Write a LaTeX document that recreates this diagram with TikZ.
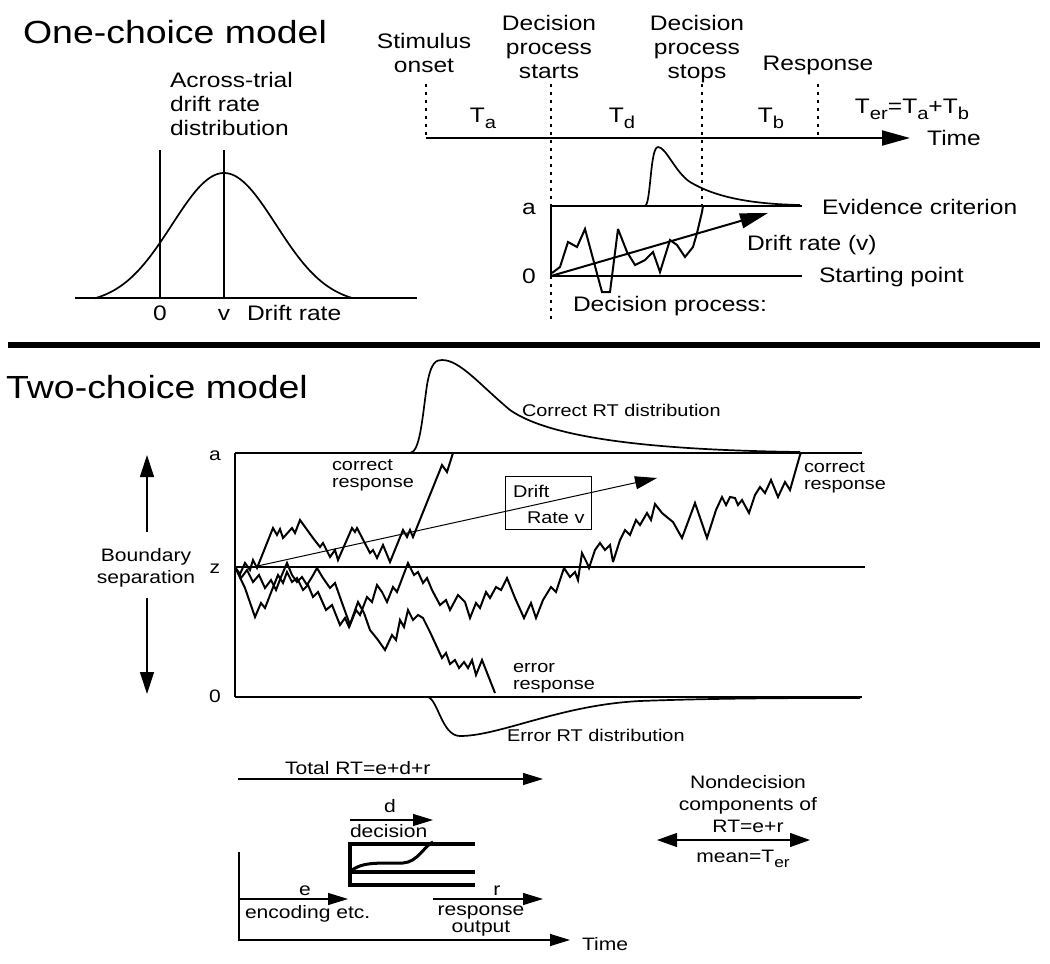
\documentclass[tikz,border=0pt]{standalone}
\usepackage{fontspec}
\setmainfont{Liberation Sans}[FakeStretch=1.17]
\usepackage{graphicx}
\usetikzlibrary{arrows.meta}
\newcommand\lsub[1]{\raisebox{-0.32em}{\scalebox{0.82}{#1}}}
\begin{document}
\begin{tikzpicture}[x=1pt,y=-1pt,
  every node/.style={inner sep=0pt, outer sep=0pt},
  ttl/.style={font=\fontsize{32}{36}\selectfont},
  big/.style={font=\fontsize{21}{24}\selectfont, align=center},
  bigl/.style={font=\fontsize{21}{24}\selectfont, align=left},
  mid/.style={font=\fontsize{18}{22}\selectfont, align=center},
  sml/.style={font=\fontsize{17}{17}\selectfont, align=left},
  bd/.style={line width=2pt},
  walk/.style={line width=2pt, line join=miter, miter limit=4},
  dots/.style={line width=1.8pt, dash pattern=on 3pt off 5pt},
  thinl/.style={line width=1.2pt},
  curve/.style={line width=1.7pt},
  bighead/.style={-{Triangle[length=28pt,width=15pt]}},
  smlhead/.style={-{Triangle[length=20pt,width=12pt]}},
]
\useasboundingbox (0,0) rectangle (1050,964);

%% ================= One-choice model =================
\node[ttl, anchor=base] (t1) at (175,43) {One-choice model};

% drift rate distribution
\node[bigl, anchor=base west] (across) at (170,135) {Across-trial\\drift rate\\distribution};
\coordinate (gx0) at (75,298);
\coordinate (gx1) at (417,298);
\draw[bd] (gx0) -- (gx1);
\coordinate (z0t) at (160,150);
\coordinate (z0b) at (160,298);
\coordinate (vt) at (224,150);
\coordinate (vb) at (224,298);
\draw[bd] (z0t) -- (z0b);
\draw[bd] (vt) -- (vb);
\draw[curve] plot[domain=95:352,samples=100,smooth] (\x,{298-131.3*(exp(-0.5*((\x-224)/52)^2)-0.048)});
\node[big, anchor=base] (zlab) at (160,320) {0};
\node[big, anchor=base] (vlab) at (224,320) {v};
\node[big, anchor=base west] (drlab) at (247,320) {Drift rate};

% time line
\coordinate (tl0) at (426,138);
\coordinate (tl1) at (910,138);
\draw[bd, bighead] (tl0) -- (tl1);
\node[big, anchor=base] (stim) at (424,72) {Stimulus\\onset};
\node[big, anchor=base] (dstart) at (549,78) {Decision\\process\\starts};
\node[big, anchor=base] (dstop) at (697,78) {Decision\\process\\stops};
\node[big, anchor=base] (resp) at (818,70) {Response};
\coordinate (so0) at (426,84);
\draw[dots] (so0) -- (tl0);
\coordinate (ds0) at (551,84);
\coordinate (ds1) at (551,322);
\draw[dots] (ds0) -- (ds1);
\coordinate (dp0) at (702,84);
\coordinate (dp1) at (702,206);
\draw[dots] (dp0) -- (dp1);
\coordinate (rs0) at (818,84);
\coordinate (rs1) at (818,138);
\draw[dots] (rs0) -- (rs1);
\node[big, anchor=base] (ta) at (483,122) {T\lsub{a}};
\node[big, anchor=base] (td) at (622,122) {T\lsub{d}};
\node[big, anchor=base] (tb) at (771,122) {T\lsub{b}};
\node[big, anchor=base] (ter) at (912,113) {T\lsub{er}=T\lsub{a}+T\lsub{b}};
\node[big, anchor=base] (time1) at (954,145) {Time};

% decision process
\coordinate (ua) at (551,206);
\coordinate (ua1) at (802,206);
\coordinate (u0) at (551,276);
\coordinate (u01) at (802,276);
\draw[bd] (ua) -- (ua1);
\draw[bd] (u0) -- (u01);
\draw[bd] (ua) -- (u0);
\node[big, anchor=base] (alab) at (529,214) {a};
\node[big, anchor=base] (olab) at (529,283) {0};
\node[big, anchor=base west] (evid) at (822,214) {Evidence criterion};
\node[big, anchor=base west] (sp) at (819,282) {Starting point};
\node[big, anchor=base west] (drv) at (747,250) {Drift rate (v)};
\node[big, anchor=base west] (dproc) at (573,311) {Decision process:};
\coordinate (dr1) at (768,213);
\draw[bd, bighead] (u0) -- (dr1);
\draw[walk] (552,273) -- (560,267) -- (568,242) -- (577,247) -- (585,229) -- (602,292) -- (610,292) -- (618,229) -- (627,252) -- (635,265) -- (645,260) -- (653,252) -- (660,272) -- (670,240) -- (677,245) -- (685,257) -- (693,247) -- (697,233) -- (702,212) -- (703,206);
\draw[curve] (645,206) .. controls (651,204) and (650,147) .. (658,147)
  .. controls (666,147) and (675,172) .. (690,182)
  .. controls (715,197) and (750,204) .. (800,205);

% separator
\coordinate (sep0) at (8,345);
\coordinate (sep1) at (1040,345);
\draw[line width=6pt] (sep0) -- (sep1);

%% ================= Two-choice model =================
\node[ttl, anchor=base] (t2) at (157,398) {Two-choice model};

\coordinate (ba0) at (235,453);
\coordinate (ba1) at (862,453);
\coordinate (bz0) at (235,567);
\coordinate (bz1) at (865,567);
\coordinate (bo0) at (235,697);
\coordinate (bo1) at (862,697);
\draw[bd] (ba0) -- (ba1);
\draw[bd] (bz0) -- (bz1);
\draw[bd] (bo0) -- (bo1);
\draw[bd] (ba0) -- (bo0);
\node[mid, anchor=base] (a2) at (215,460) {a};
\node[mid, anchor=base] (z2) at (215,573) {z};
\node[mid, anchor=base] (o2) at (215,702) {0};

\node[mid, anchor=base] (bsep) at (146,583) {Boundary\\separation};
\coordinate (bu0) at (147,532);
\coordinate (bu1) at (147,455);
\coordinate (bdn0) at (147,598);
\coordinate (bdn1) at (147,694);
\draw[thinl, -{Triangle[length=22pt,width=14pt]}] (bu0) -- (bu1);
\draw[thinl, -{Triangle[length=22pt,width=14pt]}] (bdn0) -- (bdn1);

% distributions
\draw[curve] (410,453) .. controls (420,452) and (422,420) .. (427,385)
  .. controls (431,362) and (436,360) .. (442,360)
  .. controls (460,360) and (480,385) .. (510,410)
  .. controls (550,438) and (650,450) .. (800,452);
\node[sml, anchor=base west] (crt) at (522,416) {Correct RT distribution};
\draw[curve] (428,697) .. controls (438,700) and (442,736) .. (460,736)
  .. controls (500,736) and (560,705) .. (640,701)
  .. controls (720,698) and (800,698) .. (860,698);
\node[sml, anchor=base west] (ert) at (507,741) {Error RT distribution};

\node[sml, anchor=base west] (cr1) at (332,487) {correct\\response};
\node[sml, anchor=base west] (cr2) at (804,489) {correct\\response};
\node[sml, anchor=base west] (er1) at (513,689) {error\\response};

% drift box and arrow
\node[draw, line width=1pt, minimum width=86pt, minimum height=53pt] (dbox) at (548,502.5) {};
\node[sml, anchor=base west] (drift) at (513,497) {Drift};
\node[sml, anchor=base west] (ratev) at (527,523) {Rate v};
\coordinate (dv0) at (253,567);
\coordinate (dv1) at (657,478);
\draw[line width=1pt, -{Triangle[length=22pt,width=13pt]}] (dv0) -- (dv1);

% random walks
\draw[walk] (235,567) -- (240,574) -- (245,563) -- (250,570) -- (253,560) -- (257,568) -- (273,528) -- (277,535) -- (280,529) -- (283,538) -- (292,528) -- (295,533) -- (300,520) -- (313,538) -- (320,547) -- (323,543) -- (330,557) -- (335,550) -- (338,560) -- (352,528) -- (355,532) -- (357,528) -- (370,553) -- (373,550) -- (377,558) -- (383,545) -- (390,562) -- (403,530) -- (407,537) -- (410,530) -- (413,537) -- (442,465) -- (447,472) -- (453,453);

\draw[walk] (235,567) -- (245,588) -- (255,617) -- (261,603) -- (265,608) -- (272,590) -- (278,575) -- (283,583) -- (287,572) -- (292,582) -- (297,578) -- (303,590) -- (308,585) -- (313,597) -- (318,592) -- (326,610) -- (332,605) -- (340,625) -- (345,618) -- (349,627) -- (358,602) -- (364,613) -- (370,630) -- (378,640) -- (385,650) -- (392,635) -- (396,640) -- (400,620) -- (404,627) -- (408,610) -- (413,620) -- (418,615) -- (423,618) -- (430,632) -- (436,645) -- (442,658) -- (446,653) -- (450,664) -- (455,660) -- (459,668) -- (464,662) -- (468,668) -- (472,660) -- (476,675) -- (482,660) -- (495,693);

\draw[walk] (235,567) -- (241,578) -- (247,570) -- (253,582) -- (259,575) -- (265,588) -- (271,580) -- (276,590) -- (281,577) -- (287,563) -- (292,575) -- (297,582) -- (302,577) -- (307,585) -- (312,577) -- (317,568) -- (323,578) -- (330,588) -- (335,583) -- (341,600) -- (350,625) -- (356,610) -- (360,615) -- (367,597) -- (372,602) -- (377,585) -- (382,592) -- (387,602) -- (393,587) -- (397,592) -- (408,563) -- (414,575) -- (418,572) -- (423,583) -- (427,578) -- (432,590) -- (440,605) -- (446,600) -- (450,610) -- (458,595) -- (465,602) -- (470,618) -- (476,603) -- (480,608) -- (486,592) -- (490,598) -- (496,587) -- (501,590) -- (507,578) -- (515,598) -- (524,618) -- (531,603) -- (536,618) -- (543,600) -- (551,587) -- (556,592) -- (564,568) -- (570,577) -- (575,572) -- (578,580) -- (582,553) -- (587,563) -- (589,568) -- (595,550) -- (600,543) -- (605,550) -- (610,545) -- (613,562) -- (620,540) -- (625,530) -- (630,535) -- (636,520) -- (640,525) -- (647,513) -- (651,520) -- (655,504) -- (662,513) -- (668,518) -- (673,522) -- (682,538) -- (695,503) -- (707,538) -- (716,510) -- (722,497) -- (726,505) -- (730,497) -- (735,498) -- (738,505) -- (742,500) -- (749,513) -- (755,495) -- (760,487) -- (765,493) -- (771,480) -- (778,497) -- (785,482) -- (790,490) -- (800,455) -- (801,453);

%% ================= bottom components =================
\node[mid, anchor=base west] (total) at (285,774) {Total RT=e+d+r};
\coordinate (tt0) at (238,779);
\coordinate (tt1) at (543,779);
\draw[thinl, smlhead] (tt0) -- (tt1);

\node[mid, anchor=base] (dl) at (390,812) {d};
\coordinate (dd0) at (350,820);
\coordinate (dd1) at (433,820);
\draw[thinl, smlhead] (dd0) -- (dd1);
\node[mid, anchor=base west] (decis) at (350,837) {decision};

\coordinate (m1a) at (350,844);
\coordinate (m1b) at (475,844);
\coordinate (m2a) at (350,872);
\coordinate (m2b) at (475,872);
\coordinate (m3a) at (350,885);
\coordinate (m3b) at (475,885);
\draw[line width=4.5pt] (m1b) -- (m1a) -- (m3a) -- (m3b);
\draw[line width=4.5pt] (m2a) -- (m2b);
\draw[line width=3pt] (m2a) .. controls (362,860) and (385,864) .. (403,863) .. controls (418,862) and (424,846) .. (433,842);

\coordinate (vax0) at (239,852);
\coordinate (vax1) at (239,940);
\coordinate (tax1) at (570,940);
\draw[thinl, smlhead] (vax0) -- (vax1) -- (tax1);
\node[mid, anchor=base west] (time2) at (582,950) {Time};

\node[mid, anchor=base] (el) at (305,895) {e};
\coordinate (ee0) at (239,899);
\coordinate (ee1) at (348,899);
\draw[thinl, smlhead] (ee0) -- (ee1);
\node[mid, anchor=base west] (enc) at (245,918) {encoding etc.};

\node[mid, anchor=base] (rl) at (497,895) {r};
\coordinate (rr0) at (433,899);
\coordinate (rr1) at (543,899);
\draw[thinl, smlhead] (rr0) -- (rr1);
\node[font=\fontsize{18}{17}\selectfont, align=center, anchor=base] (rout) at (481,932) {response\\output};

\node[mid, anchor=base] (nond) at (748,832) {Nondecision\\components of\\RT=e+r};
\coordinate (nd0) at (657,840);
\coordinate (nd1) at (810,840);
\draw[thinl, {Triangle[length=20pt,width=14pt]}-{Triangle[length=20pt,width=14pt]}] (nd0) -- (nd1);
\node[mid, anchor=base] (mean) at (743,862) {mean=T\lsub{er}};
\end{tikzpicture}
\end{document}
